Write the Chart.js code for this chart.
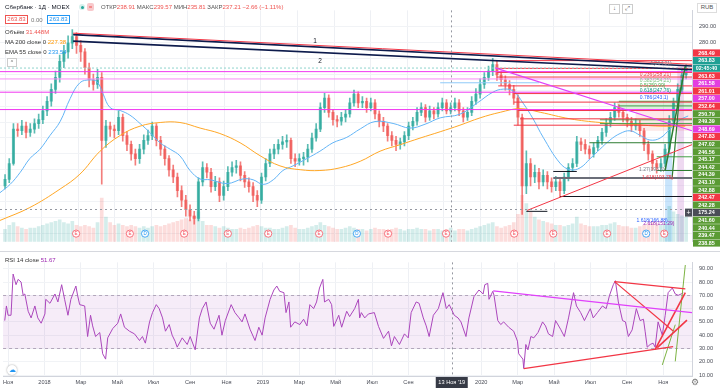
<!DOCTYPE html>
<html><head><meta charset="utf-8">
<script src="https://cdn.jsdelivr.net/npm/chart.js@4.4.1/dist/chart.umd.min.js"></script>
<style>
html,body{margin:0;padding:0;background:#fff;width:720px;height:388px;overflow:hidden;font-family:"Liberation Sans",Arial,sans-serif;}
canvas{position:absolute;left:0;}
#c1{top:0;} #c2{top:252px;}
.t{position:absolute;font-size:6px;color:#131722;white-space:nowrap;line-height:1;z-index:5;}
.r{color:#ef5350}.o{color:#ff9800}.b{color:#2196f3}.p{color:#9c27b0}
.box{position:absolute;z-index:5;border:1px solid #ccc;background:#fff;font-size:6px;line-height:7px;text-align:center;color:#555;}
#sep{position:absolute;left:0;top:251px;width:720px;height:1px;background:#d6d8de;z-index:4;}
</style></head><body>
<canvas id="c1" width="720" height="252"></canvas>
<canvas id="c2" width="720" height="136"></canvas>
<div id="sep"></div>
<div class="t" style="left:5px;top:4px;font-size:6.2px">Сбербанк · 1Д · MOEX</div>
<div style="position:absolute;left:79px;top:4px;width:6px;height:6px;border-radius:3px;background:#d7f0ec;z-index:5"><div style="margin:1.5px;width:3px;height:3px;border-radius:2px;background:#26a69a"></div></div>
<div style="position:absolute;left:87px;top:3px;width:7px;height:8px;border-radius:2px;background:#f8c9cc;z-index:5;font-size:6px;line-height:8px;text-align:center;color:#ef5350">=</div>
<div class="t" style="left:101px;top:4px;color:#555">ОТКР<span class="r">238.91</span> МАКС<span class="r">239.57</span> МИН<span class="r">235.81</span> ЗАКР<span class="r">237.21</span> <span class="r">−2.66 (−1.11%)</span></div>
<div class="box" style="left:5px;top:15px;width:21px;height:7px;border-color:#ef5350;color:#ef5350">263.83</div>
<div class="t" style="left:31px;top:17px;color:#777">0.00</div>
<div class="box" style="left:47px;top:15px;width:21px;height:7px;border-color:#2196f3;color:#2196f3">263.83</div>
<div class="t" style="left:5px;top:29px;color:#333">Объём <span class="r">31.448M</span></div>
<div class="t" style="left:5px;top:39px;color:#333">MA 200 close 0 <span class="o">227.38</span></div>
<div class="t" style="left:5px;top:49px;color:#333">EMA 55 close 0 <span class="b">233.54</span></div>
<div class="box" style="left:7px;top:58px;width:8px;height:7px;font-size:5px">^</div>
<div class="box" style="left:609px;top:4px;width:9px;height:8px">↓</div>
<div class="box" style="left:622px;top:4px;width:9px;height:8px">⤢</div>
<div class="box" style="left:697px;top:3px;width:18px;height:8px;border-color:#ddd">RUB</div>
<div class="t" style="left:5px;top:257px;color:#333">RSI 14 close <span class="p">51.67</span></div>
<div style="position:absolute;left:7px;top:365px;width:10px;height:10px;border-radius:6px;background:#fff;box-shadow:0 0 2px #999;z-index:5;font-size:7px;line-height:10px;text-align:center;color:#2196f3">☁</div>
<div class="t" style="left:691px;top:378px;font-size:9px;color:#777">⚙</div>
<script>
Chart.defaults.font.family = '"Liberation Sans", Arial, sans-serif';
// ---- time axis (weeks since 1 Nov 2017) ----
const XMIN = -1.2, XMAX = 163.4;
const monthLabels = ['Ноя','2018','Мар','Май','Июл','Сен','Ноя','2019','Мар','Май','Июл','Сен','','2020','Мар','Май','Июл','Сен','Ноя'];
const monthIdx = [0,2,4,6,8,10,12,14,16,18,20,22,24,26,28,30,32,34,36];
const WEEKS_PER_MONTH = 4.348;
const crossW = 106.0, crossLabel = "13 Ноя '19", crossPrice = 175.24;
// ---- weekly candles ----
const opens = [190,194,204,225.5,224.5,227.5,223.5,225.5,229,231.5,
237,243,250.5,258,268,274,279.5,283.5,278,274,
264,256.5,253.5,258,218.5,227.5,225.5,224.5,233,221.5,
216,210,207,213,218.5,221.5,227.5,218.5,213,207,
200,195.5,187,181,175,171,169.5,192.5,201.5,198.5,
189.5,192.5,184,189.5,198.5,201.5,202.5,196.5,192.5,189.5,
184,181,195.5,204,210,213,216,217.5,218.5,207,
205.5,207,208,213,220,225.5,239,245,236,231.5,
230.5,233,235,242,247.5,242,243,239,242,235,
230.5,227.5,221.5,218.5,216,217.5,221.5,227.5,230.5,236,
239,233,237,235,239,242,237,239,242,237,
233,236,243,247.5,253.5,258,262,266,259.5,256.5,
253.5,250.5,245,233,190,204,195.5,198.5,192.5,196.5,
192.5,189.5,192.5,187,195.5,201.5,204,217.5,216,213,
210,214,218.5,223.5,229,233,239,236,233,230.5,
227.5,229,224.5,216,210,204,201.5,204,213,230.5,
242,250.5,259.5];
const highs = [197,207,229,229,231,230,229,232,235,240,
246,254,262,272,278,284,288,286,281,276,
267,260,263,261,231,230,228,237,235,224,
218,213,216,222,225,230,229,221,215,209,
203,198,190,184,178,174,195,205,204,201,
196,195,193,202,205,206,205,199,195,192,
187,198,207,213,216,219,221,222,220,210,
210,211,216,223,229,242,248,247,238,234,
236,238,245,250,249,246,245,245,244,237,
233,229,224,221,220,224,230,233,239,242,
241,240,239,242,245,244,242,245,244,239,
239,246,251,257,261,265,270,268,262,259,
256,253,247,235,212,207,203,201,200,199,
195,196,195,198,204,207,221,220,219,215,
217,221,226,232,236,242,241,238,235,233,
232,231,226,218,212,206,207,216,234,245,
254,263,266];
const lows = [188,192,203,221,222,220,221,223,226,229,
234,240,248,255,264,270,276,273,268,260,
252,250,251,191,214,221,220,222,218,212,
206,203,204,210,216,219,215,209,203,196,
192,183,177,171,168,166,168,190,195,186,
187,180,181,187,196,198,193,189,186,180,
177,179,193,202,207,210,213,214,204,202,
203,203,205,211,218,224,236,233,228,227,
228,230,233,240,239,239,236,237,232,227,
224,218,215,212,213,215,219,225,228,234,
230,231,232,233,237,235,235,237,234,230,
231,234,241,245,251,256,259,256,253,250,
247,241,228,172,185,190,192,188,190,188,
186,187,183,185,193,199,202,212,210,207,
208,212,216,221,227,231,233,230,227,224,
225,221,212,206,200,198,199,202,211,228,
240,248,257];
const closes = [194,204,225.5,224.5,227.5,223.5,225.5,229,231.5,237,
243,250.5,258,268,274,279.5,283.5,278,274,264,
256.5,253.5,258,218.5,227.5,225.5,224.5,233,221.5,216,
210,207,213,218.5,221.5,227.5,218.5,213,207,200,
195.5,187,181,175,171,169.5,192.5,201.5,198.5,189.5,
192.5,184,189.5,198.5,201.5,202.5,196.5,192.5,189.5,184,
181,195.5,204,210,213,216,217.5,218.5,207,205.5,
207,208,213,220,225.5,239,245,236,231.5,230.5,
233,235,242,247.5,242,243,239,242,235,230.5,
227.5,221.5,218.5,216,217.5,221.5,227.5,230.5,236,239,
233,237,235,239,242,237,239,242,237,233,
236,243,247.5,253.5,258,262,266,259.5,256.5,253.5,
250.5,245,233,190,204,195.5,198.5,192.5,196.5,192.5,
189.5,192.5,187,195.5,201.5,204,217.5,216,213,210,
214,218.5,223.5,229,233,239,236,233,230.5,227.5,
229,224.5,216,210,204,201.5,204,213,230.5,242,
250.5,259.5,263.8];
const volumes = [45,60,70,55,50,45,50,50,55,60,
65,70,75,80,70,65,75,60,55,60,
55,50,70,160,90,70,60,65,60,55,
60,55,50,55,50,55,60,55,60,65,
70,75,80,85,80,95,110,75,60,60,
55,50,55,50,45,45,50,45,50,55,
60,55,50,50,45,45,50,55,60,50,
45,45,50,55,60,70,60,55,50,45,
45,50,55,50,45,45,40,45,50,45,
45,40,45,50,45,40,45,45,50,45,
45,40,45,45,40,45,50,40,45,45,
40,45,50,55,60,65,70,55,50,55,
60,70,100,170,140,110,90,80,75,70,
65,60,60,55,60,65,90,65,60,55,
55,55,60,60,65,70,60,55,55,50,
50,55,60,65,70,65,60,70,130,110,
100,95,90];
// ---- moving averages ----
const maW = [-1.2,5.9,13.1,17.8,22.6,27.4,32.1,36.9,41.6,46.4,51.1,55.9,60.7,65.4,70.2,74.9,79.7,84.5,89.2,94,98.7,103.5,108.2,113,117.8,122.5,127.3,134.4,141.5,148.7,155.8,161.8];
const maV = [168.3,176.4,188,197.3,211.7,221.6,227.4,229.7,229.7,226.2,222.8,217,208.8,202.5,200.1,199.6,201.3,205.4,211.7,215.8,219.9,223.9,228,232.6,236.1,238.4,236.1,232,229.7,228.6,227.4,227.4];
const emaW = [-1.2,1.2,3.6,5.9,8.3,10.7,13.1,15.5,17.8,20.2,21.9,23.3,25,27.4,29.7,32.1,34.5,36.9,39.3,41.6,44,46.4,48.8,52.8,56.6,59,61.4,63.8,66.1,68.5,71.8,74.9,78,81.3,84.5,88,92.3,96.3,99.9,103.5,108.2,112.3,116.1,118.5,120.9,123.2,125.6,128,132,134.4,136.8,139.2,141.5,143.9,146.3,148.7,151.1,153.4,155.8,158.2,160.6,162.5];
const emaV = [185.7,190.9,198.4,207.1,212.9,221.6,230.3,244.8,254.6,256.4,255.2,247.7,239,237.2,234.3,229.1,223.3,216.9,212.9,208.8,199.6,194.3,193.8,191.4,194.3,193.8,190.9,193.8,199.6,202.5,207.1,211.7,217,220.4,225.7,230.3,229.1,226.2,228.6,232.6,234.9,241.9,248.8,250.6,249.4,241.9,232,220.4,204.2,200.1,201.3,207.1,212.9,218.7,222.8,224.5,221.6,218.7,219.9,225.7,231.4,233.8];
// ---- RSI 14 ----
const rsiW = [-0.8,-0.4,0,0.7,1.2,1.9,2.4,3.1,3.6,4.0,4.8,5.5,6.4,7.1,7.9,8.8,9.0,10.0,11.2,11.9,12.8,13.5,14.3,15.0,16.2,16.6,17.1,18.3,19.0,19.7,20.2,20.9,21.9,22.6,23.3,23.8,25.0,26.2,26.9,27.8,29.0,30.2,31.4,32.1,32.8,33.8,34.5,35.4,36.1,36.9,37.6,38.5,39.2,39.9,40.4,41.6,42.8,43.5,44.7,45.7,46.4,47.3,48.3,49.2,50.4,51.1,51.9,53.3,54.2,55.2,55.9,56.6,57.8,59.0,59.9,60.7,61.4,62.6,63.5,64.2,64.9,65.9,66.4,67.1,67.5,68.5,69.7,70.6,71.4,72.1,73.0,73.7,74.4,75.2,75.6,76.6,77.3,77.8,79.0,79.7,80.9,81.6,82.8,83.7,84.0,84.4,85.2,86.1,87.5,88.5,89.7,90.9,91.6,92.3,93.5,94.7,95.6,96.3,97.5,98.2,99.2,99.9,100.6,101.6,102.8,103.9,104.7,105.4,106.6,107.5,108.2,109.4,110.1,111.3,112.5,113.5,113.9,114.6,114.9,115.8,116.1,117.0,117.7,118.4,119.6,120.8,121.7,122.0,123.0,123.2,123.7,124.2,124.9,125.6,126.6,127.7,128.4,129.1,130.1,130.8,132.0,132.9,133.9,135.1,135.8,136.8,137.7,139.1,139.8,140.8,142.0,142.9,143.7,144.6,145.1,145.8,146.8,147.5,148.2,149.1,150.1,151.0,151.8,152.2,152.7,153.4,154.1,154.6,155.3,156.3,157.0,157.7,158.7,159.4,160.1,160.8,161.3];
const rsiV = [51,62,55,55,86,78,82,80,70,71,58,53,62,53,49,56,67,64,71,65,78,67,55,67,77,70,63,62,39,55,47,39,42,26,22,38,45,49,56,46,43,41,36,39,34,50,57,63,60,53,43,48,40,35.5,31,38,33,39,29,53,60,65,49,44.5,55,40,51,63,57,53,50,56,44.5,36,46,40,53,67,74,77,73,72,57,65,46,50,48,52,47,63,60,65,75.5,82,65,67,63,46.6,55,46,58,54,60,67,53,57,53,56,57,46.6,37.6,43,32,39,33,41,38,57,65,64,53,47,39,55,60,72,60,63,55,53,50,39,53,69,74,71,78,79,67,73,70,51,48,50,46,43,35.5,26,22,15,33,29,39,38,42,50,47,41,39,51,44.5,39,53,72,62,57,51,60,53,57,62,60,70,78,81,65,51,50,39,44,60,51,52,43,31,33,34,31,50,40,55,72,75.5,71,70,71,72];
// ---- price-pane drawings (week, price) ----
const trendLines = [ // [w0,p0,w1,p1,color,width]
 [16.2,285.7,163.4,266.2,'#f23645',1],
 [16.2,284.8,163.4,265.1,'#0d1b4c',1.6],
 [16.2,280.7,163.4,262.8,'#0d1b4c',1.6],
 [116.6,263.9,163.4,224.5,'#e040fb',1.2],
 [124.2,174.6,163.4,215.8,'#f23645',1],
 [157.0,199.6,161.8,265.1,'#2e7d32',1.5],
 [158.7,195.5,160.6,251.7,'#2e7d32',1.2]
];
const hLines = [ // [w0,w1,price,color,width,dash]
 [XMIN,XMAX,261.58,'#f036f0',1,[]],[XMIN,XMAX,257.00,'#f68df6',1,[]],[XMIN,XMAX,248.69,'#f036f0',1,[]],[XMIN,XMAX,237.8,'#f036f0',1,[]],
 [XMIN,XMAX,263.83,'#8fd3cc',1,[2,2]],[103.5,127,254.6,'#90caf9',1,[]],
 [115.8,XMAX,268.49,'#f23645',1,[]],[117,XMAX,263.63,'#f23645',1,[]],[117,XMAX,261.01,'#f23645',1,[]],[117,XMAX,258.2,'#f23645',1,[]],
 [117.3,XMAX,252.64,'#f23645',1,[]],[121,XMAX,247.83,'#f23645',1,[]],[121,XMAX,242.47,'#f23645',1,[]],[122,XMAX,237.2,'#f23645',1,[]],
 [122.5,XMAX,232,'#f23645',1,[]],[121,XMAX,228,'#f23645',1,[]],
 [146,XMAX,243.0,'#43a047',1,[]],[146,XMAX,240.1,'#43a047',1,[]],[141.5,XMAX,231.4,'#43a047',1,[]],[141.5,XMAX,229,'#43a047',1,[]],
 [139,XMAX,217,'#2e7d32',1,[]],[155,XMAX,208.2,'#43a047',1,[]],[155,XMAX,199.6,'#2e7d32',1,[]],
 [130.4,136,199,'#131722',1,[]],[130.4,XMAX,194.9,'#6b6e78',2,[]],[132,XMAX,183.3,'#131722',1,[]],[124,129,174,'#131722',1,[]]
];
const rects = [ // [w0,w1,p0,p1,color]
 [157,158.7,155,211,'rgba(100,181,246,0.35)'],[159.9,161.5,155,266,'rgba(206,147,216,0.35)'],
 [145.6,XMAX,237.8,243,'rgba(76,175,80,0.2)'],[150,XMAX,224.5,237.8,'rgba(239,83,80,0.13)']
];
const lineTexts = [['1',73.3,280.7,'#131722'],['2',74.5,268,'#131722']];
const fibTexts = [ // [text,w,p,color]
 ['1(264.21)',153.5,266.8,'#787b86'],['0.236(258.21)',151,259.9,'#f23645'],['0.382(254.21)',151,255.8,'#81c784'],
 ['0.5(250.99)',151,252.9,'#4caf50'],['0.618(247.76)',151,249.4,'#089981'],['0.786(243.1)',151,245.4,'#2962ff'],
 ['1.27(193.6)',150.8,200.1,'#787b86'],['1.618(193.75)',151.5,194.9,'#f23645'],
 ['1.618(166.88)',150.2,168.3,'#2962ff'],['2.618(151.29)',151.8,166.2,'#9c27b0']
];
const evW = [16.9,29.7,33.3,42.6,53,62.6,74.7,83.7,91.1,104.9,121.1,130.4,143.2,152.5,156.8];
const evT = ['E','E','D','E','E','E','E','D','E','E','E','E','E','D','E'];
// ---- right axis tags (text, colour) ----
const tagText = ['268.49','263.83','02:45:40','263.63','261.58','261.01','257.00','252.64','250.79','249.39','248.69','247.83','247.02','246.56','245.17','244.42','244.39','243.10','242.88','242.47','242.28','175.24','241.60','240.44','239.47','238.85'];
const tagCol = ['r','t','t','r','m','r','m','r','g','g','m','r','g','g','g','g','g','g','g','r','g','k','g','g','g','g'];
const TAGC = {r:'#f23645',t:'#1e9f94',m:'#e33ee0',g:'#5a9b34',k:'#4a4d57'};
// ---- RSI drawings (week, rsi) ----
const rsiLines = [
 [115.9,73.4,163.4,57,'#e040fb',1.2],
 [123.2,14.8,158.9,31.4,'#f23645',1.2],
 [144.9,80.3,161.8,74.8,'#f23645',1.2],
 [144.9,80.3,158.9,43.1,'#f23645',1.2],
 [154.6,29.3,161.8,72.1,'#f23645',1.6],
 [155.1,30.7,162.2,51.4,'#f23645',1.6],
 [156.3,17.6,159.4,47.9,'#7cb342',1],
 [159.4,20.3,161.8,92.8,'#7cb342',1]
];

const tickW = monthIdx.map(m => m * WEEKS_PER_MONTH);
const cw = closes.map((_, i) => i);
const up = i => closes[i] >= opens[i];
const col = (i, a) => up(i) ? `rgba(38,166,154,${a})` : `rgba(239,83,80,${a})`;
const xAxisBase = {
  type:'linear', min:XMIN, max:XMAX, offset:false,
  grid:{color:'#eef0f4', drawTicks:false, offset:false},
  afterBuildTicks: s => { s.ticks = tickW.map(v => ({value:v})); }
};

// ---------------- PRICE CHART ----------------
const ds1 = [];
ds1.push({type:'bar', yAxisID:'yVol', data: cw.map((w,i)=>({x:w,y:volumes[i]})), backgroundColor:c=>col(c.dataIndex,0.2), barThickness:3, grouped:false, order:20});
ds1.push({type:'bar', yAxisID:'y', data: cw.map((w,i)=>({x:w,y:[lows[i],highs[i]]})), backgroundColor:c=>col(c.dataIndex,0.75), barThickness:1, grouped:false, order:11});
ds1.push({type:'bar', yAxisID:'y', data: cw.map((w,i)=>({x:w,y:[opens[i],closes[i]]})), backgroundColor:c=>col(c.dataIndex,0.7), barThickness:2.4, minBarLength:1, grouped:false, order:10});
ds1.push({type:'line', yAxisID:'y', data: maW.map((w,i)=>({x:w,y:maV[i]})), borderColor:'#ffa726', borderWidth:1, pointRadius:0, tension:0.4, order:5});
ds1.push({type:'line', yAxisID:'y', data: emaW.map((w,i)=>({x:w,y:emaV[i]})), borderColor:'#64b5f6', borderWidth:1, pointRadius:0, tension:0.4, order:5});
hLines.forEach(h => ds1.push({type:'line', yAxisID:'y', data:[{x:h[0],y:h[2]},{x:h[1],y:h[2]}], borderColor:h[3], borderWidth:h[4], borderDash:h[5], pointRadius:0, order:3}));
trendLines.forEach(t => ds1.push({type:'line', yAxisID:'y', data:[{x:t[0],y:t[1]},{x:t[2],y:t[3]}], borderColor:t[4], borderWidth:t[5], pointRadius:0, order:2}));

const extras1 = {
  id:'extras1',
  beforeDatasetsDraw(chart){
    const {ctx, scales:{x,y}} = chart;
    ctx.save();
    rects.forEach(r => { const x0=x.getPixelForValue(r[0]), x1=x.getPixelForValue(r[1]); const y0=y.getPixelForValue(r[3]), y1=y.getPixelForValue(r[2]); ctx.fillStyle=r[4]; ctx.fillRect(x0,y0,x1-x0,y1-y0); });
    ctx.restore();
  },
  afterDatasetsDraw(chart){
    const {ctx, scales:{x,y}, chartArea:a} = chart;
    ctx.save();
    ctx.strokeStyle='#9598a1'; ctx.lineWidth=1; ctx.setLineDash([2,3]);
    const cx=Math.round(x.getPixelForValue(crossW))+0.5, cy=Math.round(y.getPixelForValue(crossPrice))+0.5;
    ctx.beginPath(); ctx.moveTo(cx,a.top); ctx.lineTo(cx,a.bottom); ctx.moveTo(a.left,cy); ctx.lineTo(a.right,cy); ctx.stroke();
    ctx.setLineDash([]);
    ctx.textBaseline='middle'; ctx.textAlign='left';
    ctx.font='6.5px "Liberation Sans", Arial';
    lineTexts.forEach(t => { ctx.fillStyle=t[3]; ctx.fillText(t[0], x.getPixelForValue(t[1]), y.getPixelForValue(t[2])); });
    ctx.font='5px "Liberation Sans", Arial';
    fibTexts.forEach(t => { ctx.fillStyle=t[3]; ctx.fillText(t[0], x.getPixelForValue(t[1]), y.getPixelForValue(t[2])); });
    ctx.textAlign='center';
    evW.forEach((w,i) => { const ex=x.getPixelForValue(w), ey=a.bottom-8; const c = evT[i]==='D' ? '#2196f3' : '#f7525f';
      ctx.beginPath(); ctx.arc(ex,ey,3.6,0,Math.PI*2); ctx.fillStyle='rgba(255,255,255,0.9)'; ctx.fill(); ctx.strokeStyle=c; ctx.lineWidth=0.8; ctx.stroke();
      ctx.fillStyle=c; ctx.font='4.5px "Liberation Sans", Arial'; ctx.fillText(evT[i], ex, ey+0.3); });
    ctx.restore();
  },
  afterDraw(chart){
    const {ctx, chartArea:a} = chart;
    ctx.save();
    ctx.font='bold 5.4px "Liberation Sans", Arial'; ctx.textAlign='center'; ctx.textBaseline='middle';
    tagText.forEach((t,i) => { const ty = 53 + i*7.6; ctx.fillStyle=TAGC[tagCol[i]]; ctx.fillRect(a.right+1, ty-3.6, 27, 7.2); ctx.fillStyle='#fff'; ctx.fillText(t, a.right+14.5, ty+0.3); });
    const by = 53 + 21*7.6;
    ctx.fillStyle='#4a4d57'; ctx.fillRect(a.right-7, by-4, 7, 8); ctx.fillStyle='#fff'; ctx.font='7px "Liberation Sans", Arial'; ctx.fillText('+', a.right-3.5, by);
    ctx.restore();
  }
};

new Chart(document.getElementById('c1'), {
  type:'bar',
  data:{datasets:ds1},
  options:{
    responsive:false, animation:false, events:[],
    layout:{padding:0},
    plugins:{legend:{display:false}, tooltip:{enabled:false}},
    scales:{
      x:Object.assign({}, xAxisBase, {ticks:{display:false}, border:{display:false}, afterFit:s=>{s.height=0;}}),
      y:{position:'right', min:155, max:300, grid:{color:'#f1f3f6', drawTicks:false}, border:{color:'#d1d4dc'},
         afterBuildTicks: s => { s.ticks = [160,170,180,190,200,210,220,230,240,250,260,270,280,290].map(v=>({value:v})); },
         ticks:{padding:7, color:'#4a4d57', font:{size:5.6}, callback:v => v>=280 ? v.toFixed(2) : ''},
         afterFit:s=>{s.width=28;}},
      yVol:{display:false, min:0, max:850}
    }
  },
  plugins:[extras1]
});

// ---------------- RSI CHART ----------------
const nR = Math.min(rsiW.length, rsiV.length);
const ds2 = [{data: rsiW.slice(0,nR).map((w,i)=>({x:w,y:rsiV[i]})), borderColor:'#ab47bc', borderWidth:1, pointRadius:0, tension:0, order:5}];
rsiLines.forEach(t => ds2.push({data:[{x:t[0],y:t[1]},{x:t[2],y:t[3]}], borderColor:t[4], borderWidth:t[5], pointRadius:0, order:2}));
const extras2 = {
  id:'extras2',
  beforeDatasetsDraw(chart){
    const {ctx, scales:{x,y}, chartArea:a} = chart;
    ctx.save();
    const y70=y.getPixelForValue(70), y30=y.getPixelForValue(30);
    ctx.fillStyle='rgba(156,39,176,0.09)'; ctx.fillRect(a.left,y70,a.right-a.left,y30-y70);
    ctx.strokeStyle='#b2a6bb'; ctx.setLineDash([3,3]); ctx.lineWidth=1;
    ctx.beginPath(); ctx.moveTo(a.left,Math.round(y70)+0.5); ctx.lineTo(a.right,Math.round(y70)+0.5); ctx.moveTo(a.left,Math.round(y30)+0.5); ctx.lineTo(a.right,Math.round(y30)+0.5); ctx.stroke();
    ctx.strokeStyle='#9598a1'; ctx.setLineDash([2,3]);
    const cx=Math.round(x.getPixelForValue(crossW))+0.5;
    ctx.beginPath(); ctx.moveTo(cx,a.top); ctx.lineTo(cx,a.bottom); ctx.stroke();
    ctx.restore();
  },
  afterDraw(chart){
    const {ctx, scales:{x}, chartArea:a} = chart;
    ctx.save();
    const cx=x.getPixelForValue(crossW);
    ctx.fillStyle='#363a45'; ctx.fillRect(cx-16, a.bottom+1, 32, 11);
    ctx.fillStyle='#fff'; ctx.font='5.6px "Liberation Sans", Arial'; ctx.textAlign='center'; ctx.textBaseline='middle';
    ctx.fillText(crossLabel, cx, a.bottom+6.5);
    ctx.restore();
  }
};
new Chart(document.getElementById('c2'), {
  type:'line',
  data:{datasets:ds2},
  options:{
    responsive:false, animation:false, events:[],
    layout:{padding:0},
    plugins:{legend:{display:false}, tooltip:{enabled:false}},
    scales:{
      x:Object.assign({}, xAxisBase, {border:{color:'#d1d4dc'},
        ticks:{autoSkip:false, maxRotation:0, padding:3, color:'#4a4d57', font:{size:5.6}, callback:(v,i)=>monthLabels[i]},
        afterFit:s=>{s.height=12;}}),
      y:{position:'right', min:9.3, max:94.8, grid:{color:'#f1f3f6', drawTicks:false}, border:{color:'#d1d4dc'},
        afterBuildTicks: s => { s.ticks = [10,20,30,40,50,60,70,80,90].map(v=>({value:v})); },
        ticks:{padding:7, color:'#4a4d57', font:{size:5.6}, callback:v=>v.toFixed(2)},
        afterFit:s=>{s.width=28;}}
    }
  },
  plugins:[extras2]
});
</script>
</body></html>
